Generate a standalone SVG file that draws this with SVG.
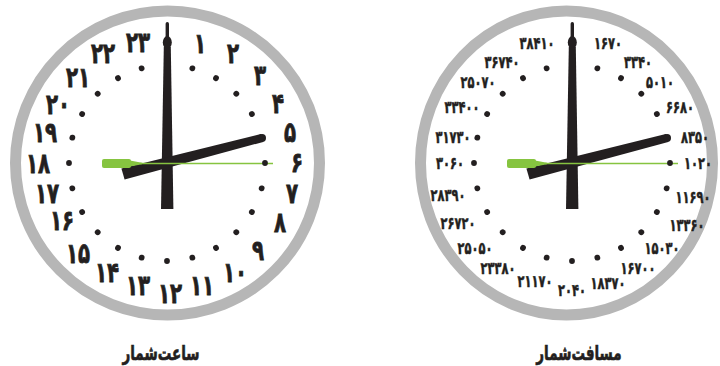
<svg xmlns="http://www.w3.org/2000/svg" xmlns:xlink="http://www.w3.org/1999/xlink" width="720" height="366" viewBox="0 0 720 366">
<style>
.ring{fill:#ffffff;stroke:#b6b6b6;stroke-width:11}
.ink{fill:#231f20}
.green{fill:#86c440}
.gl{stroke:#86c440;stroke-width:1.5;fill:none}
.lbl{font-family:"DejaVu Sans",sans-serif;font-weight:bold;font-size:22px;letter-spacing:-1px;text-anchor:middle;dominant-baseline:central;fill:#231f20;stroke:#231f20;stroke-width:0.6}
.lbs{font-family:"DejaVu Sans",sans-serif;font-weight:bold;font-size:13px;letter-spacing:-0.5px;text-anchor:middle;dominant-baseline:central;fill:#231f20;stroke:#231f20;stroke-width:0.4}
.ttl{font-family:"DejaVu Sans",sans-serif;font-weight:bold;font-size:15px;text-anchor:middle;dominant-baseline:central;fill:#231f20;stroke:#231f20;stroke-width:0.5}
</style>
<defs>
<g id="hands">
<rect class="ink" x="165.6" y="22" width="3.4" height="26" rx="1.7"/>
<ellipse class="ink" cx="167.3" cy="42.5" rx="4.5" ry="6.5"/>
<polygon class="ink" points="163.8,47 170.8,47 173.4,209 161,209"/>
<polygon class="ink" points="121.4,168.6 124.6,179.4 263.2,141.9 260.8,134.1"/>
<circle class="ink" cx="262" cy="138" r="4"/>
<rect class="green" x="102" y="159" width="29" height="9" rx="2"/>
<polygon class="green" points="130,160.5 142,162.7 142,164.3 130,166.5"/>
<line class="gl" x1="140" y1="163.5" x2="273" y2="163.5"/>
</g>
<g id="dots">
<circle class="ink" cx="167" cy="65" r="2.9" transform="rotate(15 167 163)"/>
<circle class="ink" cx="167" cy="65" r="2.9" transform="rotate(30 167 163)"/>
<circle class="ink" cx="167" cy="65" r="2.9" transform="rotate(45 167 163)"/>
<circle class="ink" cx="167" cy="65" r="2.9" transform="rotate(60 167 163)"/>
<circle class="ink" cx="167" cy="65" r="2.9" transform="rotate(75 167 163)"/>
<circle class="ink" cx="167" cy="65" r="2.9" transform="rotate(90 167 163)"/>
<circle class="ink" cx="167" cy="65" r="2.9" transform="rotate(105 167 163)"/>
<circle class="ink" cx="167" cy="65" r="2.9" transform="rotate(120 167 163)"/>
<circle class="ink" cx="167" cy="65" r="2.9" transform="rotate(135 167 163)"/>
<circle class="ink" cx="167" cy="65" r="2.9" transform="rotate(150 167 163)"/>
<circle class="ink" cx="167" cy="65" r="2.9" transform="rotate(165 167 163)"/>
<circle class="ink" cx="167" cy="65" r="2.9" transform="rotate(180 167 163)"/>
<circle class="ink" cx="167" cy="65" r="2.9" transform="rotate(195 167 163)"/>
<circle class="ink" cx="167" cy="65" r="2.9" transform="rotate(210 167 163)"/>
<circle class="ink" cx="167" cy="65" r="2.9" transform="rotate(225 167 163)"/>
<circle class="ink" cx="167" cy="65" r="2.9" transform="rotate(240 167 163)"/>
<circle class="ink" cx="167" cy="65" r="2.9" transform="rotate(255 167 163)"/>
<circle class="ink" cx="167" cy="65" r="2.9" transform="rotate(270 167 163)"/>
<circle class="ink" cx="167" cy="65" r="2.9" transform="rotate(285 167 163)"/>
<circle class="ink" cx="167" cy="65" r="2.9" transform="rotate(300 167 163)"/>
<circle class="ink" cx="167" cy="65" r="2.9" transform="rotate(315 167 163)"/>
<circle class="ink" cx="167" cy="65" r="2.9" transform="rotate(330 167 163)"/>
<circle class="ink" cx="167" cy="65" r="2.9" transform="rotate(345 167 163)"/>
</g>
</defs>
<rect x="0" y="0" width="720" height="366" fill="#ffffff"/>

<g id="clock-hours">
<circle class="ring" cx="167.5" cy="163" r="152"/>
<g id="hour-labels">
<text class="lbl" transform="translate(200 43) scale(0.9 1.28)">۱</text>
<text class="lbl" transform="translate(233 53) scale(0.9 1.28)">۲</text>
<text class="lbl" transform="translate(260 75) scale(0.9 1.28)">۳</text>
<text class="lbl" transform="translate(278 103) scale(0.9 1.28)">۴</text>
<text class="lbl" transform="translate(290 132) scale(0.9 1.28)">۵</text>
<text class="lbl" transform="translate(297 162) scale(0.9 1.28)">۶</text>
<text class="lbl" transform="translate(292 193) scale(0.9 1.28)">۷</text>
<text class="lbl" transform="translate(280 222) scale(0.9 1.28)">۸</text>
<text class="lbl" transform="translate(258 250) scale(0.9 1.28)">۹</text>
<text class="lbl" transform="translate(235 272) scale(0.9 1.28)">۱۰</text>
<text class="lbl" transform="translate(202 285) scale(0.9 1.28)">۱۱</text>
<text class="lbl" transform="translate(170 293) scale(0.9 1.28)">۱۲</text>
<text class="lbl" transform="translate(138 285) scale(0.9 1.28)">۱۳</text>
<text class="lbl" transform="translate(107 272) scale(0.9 1.28)">۱۴</text>
<text class="lbl" transform="translate(78 253) scale(0.9 1.28)">۱۵</text>
<text class="lbl" transform="translate(62 220) scale(0.9 1.28)">۱۶</text>
<text class="lbl" transform="translate(47 193) scale(0.9 1.28)">۱۷</text>
<text class="lbl" transform="translate(38 163) scale(0.9 1.28)">۱۸</text>
<text class="lbl" transform="translate(45 132) scale(0.9 1.28)">۱۹</text>
<text class="lbl" transform="translate(58 104) scale(0.9 1.28)">۲۰</text>
<text class="lbl" transform="translate(78 77) scale(0.9 1.28)">۲۱</text>
<text class="lbl" transform="translate(103 53) scale(0.9 1.28)">۲۲</text>
<text class="lbl" transform="translate(138 42) scale(0.9 1.28)">۲۳</text>
</g>
<use xlink:href="#hands" href="#hands"/>
<use xlink:href="#dots" href="#dots"/>
<text class="ttl" transform="translate(161 353) scale(0.9 1.35)">ساعت‌شمار</text>
</g>

<g id="clock-distance">
<ellipse class="ring" cx="566.5" cy="163" rx="146" ry="152"/>
<g id="distance-labels">
<text class="lbs" transform="translate(608 43) scale(0.88 1.3)">۱۶۷۰</text>
<text class="lbs" transform="translate(638 62) scale(0.88 1.3)">۳۳۴۰</text>
<text class="lbs" transform="translate(660 82) scale(0.88 1.3)">۵۰۱۰</text>
<text class="lbs" transform="translate(680 107) scale(0.88 1.3)">۶۶۸۰</text>
<text class="lbs" transform="translate(695 137) scale(0.88 1.3)">۸۳۵۰</text>
<text class="lbs" transform="translate(698 163) scale(0.88 1.3)">۱۰۲۰</text>
<text class="lbs" transform="translate(693 197) scale(0.88 1.3)">۱۱۶۹۰</text>
<text class="lbs" transform="translate(687 225) scale(0.88 1.3)">۱۳۳۶۰</text>
<text class="lbs" transform="translate(662 248) scale(0.88 1.3)">۱۵۰۳۰</text>
<text class="lbs" transform="translate(638 268) scale(0.88 1.3)">۱۶۷۰۰</text>
<text class="lbs" transform="translate(608 283) scale(0.88 1.3)">۱۸۳۷۰</text>
<text class="lbs" transform="translate(572 290) scale(0.88 1.3)">۲۰۴۰</text>
<text class="lbs" transform="translate(535 281) scale(0.88 1.3)">۲۱۱۷۰</text>
<text class="lbs" transform="translate(498 268) scale(0.88 1.3)">۲۳۳۸۰</text>
<text class="lbs" transform="translate(475 248) scale(0.88 1.3)">۲۵۰۵۰</text>
<text class="lbs" transform="translate(458 223) scale(0.88 1.3)">۲۶۷۲۰</text>
<text class="lbs" transform="translate(448 195) scale(0.88 1.3)">۲۸۳۹۰</text>
<text class="lbs" transform="translate(450 163) scale(0.88 1.3)">۳۰۶۰</text>
<text class="lbs" transform="translate(453 137) scale(0.88 1.3)">۳۱۷۳۰</text>
<text class="lbs" transform="translate(462 107) scale(0.88 1.3)">۳۳۴۰۰</text>
<text class="lbs" transform="translate(478 82) scale(0.88 1.3)">۲۵۰۷۰</text>
<text class="lbs" transform="translate(502 62) scale(0.88 1.3)">۳۶۷۴۰</text>
<text class="lbs" transform="translate(537 43) scale(0.88 1.3)">۳۸۴۱۰</text>
</g>
<use xlink:href="#hands" href="#hands" transform="translate(405 0)"/>
<use xlink:href="#dots" href="#dots" transform="translate(405 0)"/>
<text class="ttl" transform="translate(579 353) scale(0.9 1.35)">مسافت‌شمار</text>
</g>
</svg>
